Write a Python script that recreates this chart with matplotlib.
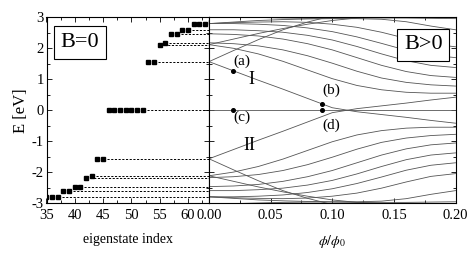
import matplotlib
matplotlib.use("Agg")
import matplotlib.pyplot as plt
from matplotlib.ticker import MultipleLocator

plt.rcParams['font.family'] = ['Liberation Serif', 'DejaVu Serif']
plt.rcParams['mathtext.fontset'] = 'stix'
plt.rcParams['axes.unicode_minus'] = False

# ---------------- data ----------------
# left panel: eigenstate index vs energy at B=0
state_index = list(range(35, 65))
state_energy = [-2.8, -2.8, -2.8, -2.6, -2.6, -2.47, -2.47, -2.18, -2.12, -1.57,
                -1.57, 0, 0, 0, 0, 0, 0, 0, 1.57, 1.57,
                2.12, 2.18, 2.47, 2.47, 2.6, 2.6, 2.8, 2.8, 2.8, 2.85]
# dashed guide lines: level and last index of that level group
guide_level = [-2.8, -2.6, -2.47, -2.18, -2.12, -1.57, 0, 1.57, 2.12, 2.18, 2.47, 2.6, 2.8]
guide_start = [37, 39, 41, 42, 43, 45, 52, 54, 55, 56, 58, 60, 63]

# right panel: energy levels vs flux
phi = [0.00, 0.02, 0.04, 0.06, 0.08, 0.10, 0.12, 0.14, 0.16, 0.18, 0.20]
level_zero = [0, 0, 0, 0, 0, 0, 0, 0, 0, 0, 0]
level_I    = [1.57, 1.27, 0.97, 0.68, 0.38, 0.08, -0.05, -0.14, -0.23, -0.33, -0.42]
level_II   = [-1.57, -1.27, -0.97, -0.68, -0.38, -0.08, 0.05, 0.14, 0.23, 0.33, 0.42]
up_1 = [1.57, 1.93, 2.28, 2.60, 2.85, 3.05, 3.2, 3.3, 3.4, 3.5, 3.6]
up_2 = [2.12, 2.00, 1.82, 1.58, 1.30, 1.02, 0.80, 0.66, 0.58, 0.55, 0.55]
up_3 = [2.18, 2.15, 2.08, 1.95, 1.76, 1.52, 1.26, 1.04, 0.90, 0.82, 0.78]
up_4 = [2.47, 2.45, 2.40, 2.30, 2.15, 1.95, 1.70, 1.45, 1.25, 1.12, 1.06]
up_5 = [2.6, 2.60, 2.57, 2.52, 2.42, 2.27, 2.06, 1.82, 1.60, 1.45, 1.38]
up_6 = [2.8, 2.80, 2.78, 2.74, 2.66, 2.54, 2.37, 2.16, 1.94, 1.78, 1.70]
up_7 = [2.8, 2.83, 2.85, 2.86, 2.84, 2.78, 2.68, 2.52, 2.32, 2.14, 2.05]
up_8 = [2.8, 2.85, 2.90, 2.93, 2.95, 2.96, 2.96, 2.94, 2.86, 2.72, 2.60]
up_9 = [2.12, 2.30, 2.48, 2.64, 2.78, 2.90, 2.98, 3.02, 3.05, 3.08, 3.1]
up_10 = [3.05, 3.02, 3.00, 2.98, 2.97, 2.97, 2.98, 2.98, 2.98, 2.97, 2.96]
dn_1 = [-1.57, -1.93, -2.28, -2.60, -2.85, -3.05, -3.2, -3.3, -3.4, -3.5, -3.6]
dn_2 = [-2.12, -2.00, -1.82, -1.58, -1.30, -1.02, -0.80, -0.66, -0.58, -0.55, -0.55]
dn_3 = [-2.18, -2.15, -2.08, -1.95, -1.76, -1.52, -1.26, -1.04, -0.90, -0.82, -0.78]
dn_4 = [-2.47, -2.45, -2.40, -2.30, -2.15, -1.95, -1.70, -1.45, -1.25, -1.12, -1.06]
dn_5 = [-2.6, -2.60, -2.57, -2.52, -2.42, -2.27, -2.06, -1.82, -1.60, -1.45, -1.38]
dn_6 = [-2.8, -2.80, -2.78, -2.74, -2.66, -2.54, -2.37, -2.16, -1.94, -1.78, -1.70]
dn_7 = [-2.8, -2.83, -2.85, -2.86, -2.84, -2.78, -2.68, -2.52, -2.32, -2.14, -2.05]
dn_8 = [-2.8, -2.85, -2.90, -2.93, -2.95, -2.96, -2.96, -2.94, -2.86, -2.72, -2.60]
dn_9 = [-2.12, -2.30, -2.48, -2.64, -2.78, -2.90, -2.98, -3.02, -3.05, -3.08, -3.1]
dn_10 = [-3.05, -3.02, -3.00, -2.98, -2.97, -2.97, -2.98, -2.98, -2.98, -2.97, -2.96]
curves = [level_zero, level_I, level_II,
          up_1, up_2, up_3, up_4, up_5, up_6, up_7, up_8, up_9, up_10,
          dn_1, dn_2, dn_3, dn_4, dn_5, dn_6, dn_7, dn_8, dn_9, dn_10]

marked_phi = [0.0192, 0.0915, 0.0915, 0.0192]
marked_E = [1.28, 0.2, 0.0, 0.0]
marked_labels = ['(a)', '(b)', '(d)', '(c)']
label_phi = [0.0265, 0.099, 0.099, 0.0265]
label_E = [1.58, 0.64, -0.5, -0.22]

# ---------------- figure ----------------
fig = plt.figure(figsize=(4.7, 2.6), dpi=100)
W, H = 470, 260
x0, x1, x2 = 46.5, 209, 455.5
ytop, ybot = 17.4, 203
axL = fig.add_axes([x0 / W, 1 - ybot / H, (x1 - x0) / W, (ybot - ytop) / H])
axR = fig.add_axes([x1 / W, 1 - ybot / H, (x2 - x1) / W, (ybot - ytop) / H])

# left panel
axL.plot(state_index, state_energy, 's', color='black', markersize=3.2, clip_on=True)
for lv, st in zip(guide_level, guide_start):
    axL.plot([st + 0.7, 64], [lv, lv], color='black', lw=0.7, dashes=(2.2, 1.6))
axL.set_xlim(35, 63.7)
axL.set_ylim(-3, 3)
axL.xaxis.set_minor_locator(MultipleLocator(2.5))
axL.yaxis.set_major_locator(MultipleLocator(1))
axL.yaxis.set_minor_locator(MultipleLocator(0.5))
axL.set_xticks([35, 40, 45, 50, 55, 60])
axL.set_ylabel('E [eV]', fontsize=12, labelpad=2)
axL.set_xlabel('eigenstate index', fontsize=10, labelpad=8)
axL.text(0.205, 0.865, 'B=0', transform=axL.transAxes, fontsize=16, ha='center', va='center',
         bbox=dict(boxstyle='square,pad=0.3', fc='white', ec='black', lw=0.8))

# right panel
for c in curves:
    axR.plot(phi, c, color='#555555', lw=0.6)
axR.plot(marked_phi, marked_E, 'o', color='black', markersize=2.6)
for lab, px, py in zip(marked_labels, label_phi, label_E):
    axR.text(px, py, lab, fontsize=11, ha='center', va='center')
axR.text(0.0346, 0.98, 'I', fontsize=13, ha='center', va='center')
axR.text(0.033, -1.13, 'II', fontsize=13, ha='center', va='center')
axR.text(0.87, 0.853, 'B>0', transform=axR.transAxes, fontsize=16, ha='center', va='center',
         bbox=dict(boxstyle='square,pad=0.3', fc='white', ec='black', lw=0.8), zorder=5)
axR.set_xlim(0, 0.2)
axR.set_ylim(-3, 3)
axR.xaxis.set_major_locator(MultipleLocator(0.05))
axR.xaxis.set_minor_locator(MultipleLocator(0.025))
axR.yaxis.set_major_locator(MultipleLocator(1))
axR.yaxis.set_minor_locator(MultipleLocator(0.5))
axR.xaxis.set_major_formatter(plt.FormatStrFormatter('%.2f'))
axR.set_yticklabels([])
axR.set_xlabel(r'$\phi/\phi_0$', fontsize=10, labelpad=8)

for ax in (axL, axR):
    ax.tick_params(which='both', direction='in', top=True, right=True, labelsize=10.5, width=0.6)
    ax.tick_params(axis='x', pad=4)
    ax.tick_params(axis='y', pad=2)
    ax.tick_params(which='major', length=3.5)
    ax.tick_params(which='minor', length=2)
    for s in ax.spines.values():
        s.set_linewidth(0.8)

fig.savefig('out.png', dpi=100)
